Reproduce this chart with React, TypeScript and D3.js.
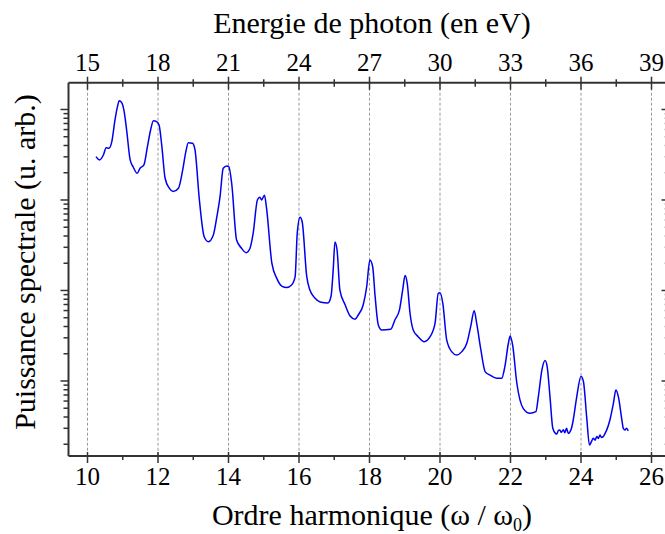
import React from "react";
import * as d3 from "d3";

// Harmonic order (x) and spectral power (arbitrary units, log axis)
const harmonic = [
  10.24, 10.34, 10.45, 10.53, 10.61, 10.69, 10.78, 10.85, 10.9, 10.97, 11.04, 11.11, 11.21, 11.3, 11.41, 11.49, 11.6,
  11.7, 11.79, 11.87, 11.96, 12.03, 12.11, 12.2, 12.32, 12.43, 12.58, 12.7, 12.79, 12.86, 12.98, 13.05, 13.17, 13.31,
  13.43, 13.57, 13.67, 13.76, 13.85, 13.95, 14.01, 14.09, 14.23, 14.37, 14.5, 14.61, 14.7, 14.82, 14.89, 14.94, 15.02,
  15.08, 15.23, 15.37, 15.51, 15.65, 15.79, 15.89, 15.95, 16.03, 16.09, 16.22, 16.31, 16.45, 16.6, 16.82, 16.91, 16.97,
  17.02, 17.08, 17.16, 17.31, 17.45, 17.59, 17.68, 17.82, 17.92, 18.01, 18.09, 18.16, 18.25, 18.35, 18.6, 18.72, 18.85,
  18.94, 19.01, 19.07, 19.15, 19.24, 19.38, 19.55, 19.72, 19.86, 19.95, 20.0, 20.08, 20.19, 20.33, 20.47, 20.62, 20.76,
  20.87, 20.97, 21.04, 21.16, 21.28, 21.42, 21.61, 21.75, 21.84, 21.94, 21.99, 22.06, 22.18, 22.36, 22.55, 22.72, 22.79,
  22.89, 22.98, 23.04, 23.12, 23.2, 23.28, 23.31, 23.36, 23.4, 23.44, 23.5, 23.54, 23.59, 23.64, 23.69, 23.74, 23.78,
  23.88, 24.0, 24.07, 24.16, 24.24, 24.3, 24.35, 24.4, 24.45, 24.49, 24.54, 24.58, 24.63, 24.68, 24.73, 24.82, 24.92,
  24.99, 25.06, 25.16, 25.2, 25.25, 25.29, 25.34,
];
const power = [
  301, 277, 314, 378, 373, 441, 766, 1074, 1251, 1189, 946, 593, 277, 230, 197, 224, 244,
  388, 593, 752, 733, 674, 388, 175, 135, 124, 135, 214, 342, 430, 423, 357, 104, 39.3,
  34.6, 41.0, 65.3, 109, 224, 238, 233, 153, 36.1, 29.3, 26.2, 29.3, 42.9, 100, 107, 100, 113,
  80.9, 20.0, 13.6, 11.2, 10.8, 11.5, 14.2, 42.9, 64.4, 57.5, 14.2, 10.1, 8.26, 7.46, 7.28, 8.69, 16.9,
  34.4, 28.0, 10.1, 6.92, 5.22, 4.81, 5.36, 6.92, 11.0, 21.7, 18.3, 8.54, 4.16, 3.66, 3.73, 4.72, 6.1,
  10.1, 14.6, 12.0, 5.6, 3.66, 3.09, 2.72, 3.09, 4.35, 9.31, 9.46, 7.22, 2.84, 2.11, 1.94, 2.11, 2.61,
  3.98, 5.98, 4.35, 2.2, 1.27, 1.16, 1.07, 1.07, 1.44, 2.61, 3.14, 2.5, 0.944, 0.499, 0.44, 0.458, 0.671,
  1.32, 1.68, 1.44, 0.671, 0.3, 0.262, 0.259, 0.285, 0.288, 0.27, 0.29, 0.268, 0.3, 0.262, 0.275, 0.31, 0.371,
  0.671, 1.13, 0.981, 0.404, 0.196, 0.215, 0.233, 0.222, 0.243, 0.232, 0.253, 0.238, 0.243, 0.262, 0.288, 0.371, 0.568,
  0.796, 0.671, 0.371, 0.3, 0.288, 0.3, 0.281,
];

const bottomTicks = [10, 12, 14, 16, 18, 20, 22, 24, 26];
const topTicks = [15, 18, 21, 24, 27, 30, 33, 36, 39];
const eVPerHarmonic = 1.5;

const W = 665;
const H = 534;
const LEFT = 68.5;
const RIGHT = 667.5;
const TOP = 82.7;
const BOTTOM = 456;
const FONT = "'Liberation Serif', 'Times New Roman', serif";

export default function App() {
  const x = d3.scaleLinear().domain([10, 26]).range([87.5, 651.5]);
  const xMin = x.invert(LEFT);
  const xMax = x.invert(RIGHT);
  const xe = d3.scaleLinear().domain([xMin * eVPerHarmonic, xMax * eVPerHarmonic]).range([LEFT, RIGHT]);
  const y = d3.scaleLog().domain([Math.pow(10, -0.829), Math.pow(10, 3.296)]).range([BOTTOM, TOP]);

  const pts = harmonic.map((h, i) => [h, power[i]] as [number, number]);
  const line = d3
    .line<[number, number]>()
    .x((d) => x(d[0]))
    .y((d) => y(d[1]))
    .curve(d3.curveMonotoneX);

  const minorBottom = d3.range(10, 27).filter((v) => v % 2 === 1);
  const minorTop = topTicks.slice(0, -1).map((v) => v + 1.5);

  const logTicks: { v: number; major: boolean }[] = [];
  for (let e = -1; e <= 3; e++) {
    for (let k = 1; k <= 9; k++) {
      const v = k * Math.pow(10, e);
      const [d0, d1] = y.domain();
      if (v >= d0 && v <= d1) logTicks.push({ v, major: k === 1 });
    }
  }

  const axisColor = "#333";

  return (
    <svg width={W} height={H} style={{ position: "absolute", left: 0, top: 0, background: "#fff" }}>
      {/* grid lines */}
      {bottomTicks.map((t) => (
        <line key={"g" + t} x1={x(t)} x2={x(t)} y1={TOP} y2={BOTTOM} stroke="#9a9a9a" strokeWidth={1} strokeDasharray="3,2" />
      ))}

      {/* data */}
      <path d={line(pts) || ""} fill="none" stroke="#0000ee" strokeWidth={1.5} strokeLinejoin="round" />

      {/* axes lines */}
      <line x1={LEFT} x2={W} y1={TOP} y2={TOP} stroke={axisColor} strokeWidth={2} />
      <line x1={LEFT} x2={W} y1={BOTTOM} y2={BOTTOM} stroke={axisColor} strokeWidth={2} />
      <line x1={LEFT} x2={LEFT} y1={TOP} y2={BOTTOM} stroke={axisColor} strokeWidth={2} />

      {/* top ticks */}
      {topTicks.map((t) => (
        <g key={"tt" + t}>
          <line x1={xe(t)} x2={xe(t)} y1={TOP - 6} y2={TOP + 7} stroke={axisColor} strokeWidth={1.5} />
          <text x={xe(t)} y={71} textAnchor="middle" fontFamily={FONT} fontSize={25} fill="#000">
            {t}
          </text>
        </g>
      ))}
      {minorTop.map((t) => (
        <line key={"tm" + t} x1={xe(t)} x2={xe(t)} y1={TOP - 3.5} y2={TOP + 4} stroke={axisColor} strokeWidth={1.5} />
      ))}

      {/* bottom ticks */}
      {bottomTicks.map((t) => (
        <g key={"bt" + t}>
          <line x1={x(t)} x2={x(t)} y1={BOTTOM - 4} y2={BOTTOM + 7} stroke={axisColor} strokeWidth={1.5} />
          <text x={x(t)} y={485} textAnchor="middle" fontFamily={FONT} fontSize={25} fill="#000">
            {t}
          </text>
        </g>
      ))}
      {minorBottom.map((t) => (
        <line key={"bm" + t} x1={x(t)} x2={x(t)} y1={BOTTOM} y2={BOTTOM + 4} stroke={axisColor} strokeWidth={1.5} />
      ))}

      {/* left log ticks */}
      {logTicks.map((t, i) => (
        <line
          key={"lt" + i}
          x1={LEFT - (t.major ? 8 : 5)}
          x2={LEFT}
          y1={y(t.v)}
          y2={y(t.v)}
          stroke={axisColor}
          strokeWidth={1.5}
        />
      ))}
      {/* right log ticks */}
      {logTicks.map((t, i) => (
        <line
          key={"rt" + i}
          x1={RIGHT - (t.major ? 6 : 3)}
          x2={RIGHT}
          y1={y(t.v)}
          y2={y(t.v)}
          stroke={t.major ? axisColor : "#aaa"}
          strokeWidth={1.5}
        />
      ))}

      {/* titles */}
      <text x={372} y={33} textAnchor="middle" fontFamily={FONT} fontSize={30} fill="#000">
        Energie de photon (en eV)
      </text>
      <text x={372} y={525} textAnchor="middle" fontFamily={FONT} fontSize={30} fill="#000">
        Ordre harmonique (ω / ω<tspan fontSize={18} dy={6}>0</tspan>
        <tspan dy={-6}>)</tspan>
      </text>
      <text
        transform={`translate(35, 262) rotate(-90)`}
        textAnchor="middle"
        fontFamily={FONT}
        fontSize={30}
        fill="#000"
      >
        Puissance spectrale (u. arb.)
      </text>
    </svg>
  );
}
